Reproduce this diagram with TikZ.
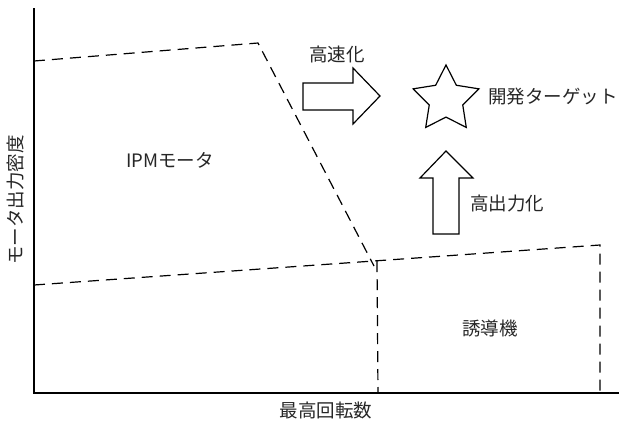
\documentclass[tikz,border=0pt]{standalone}
\usepackage{fontspec}
\setmainfont{Noto Sans CJK JP}
\usetikzlibrary{shapes.geometric}
\begin{document}
\begin{tikzpicture}[x=1pt,y=-1pt,
  axis/.style={line width=1.8pt},
  bound/.style={line width=1.2pt, dash pattern=on 11pt off 7pt},
  lbl/.style={font=\fontsize{18.5}{22}\selectfont, inner sep=0pt, text=black!85},
  fatarrow/.style={draw, line width=1.2pt, fill=white, line join=miter}]
\useasboundingbox (0,0) rectangle (619,424);
% axes
\coordinate (O) at (34,393);
\coordinate (Ytop) at (34,8);
\coordinate (Xend) at (619,393);
\draw[axis] (Ytop) -- (O) -- (Xend);
% IPM motor region
\coordinate (i1) at (34,61);
\coordinate (i2) at (258,43);
\coordinate (i3) at (374,266);
\draw[bound] (i1) -- (i2) -- (i3);
% induction motor region
\coordinate (m1) at (34,285);
\coordinate (m2) at (600,245);
\coordinate (m3) at (600,393);
\coordinate (v1) at (377,261);
\coordinate (v2) at (378,393);
\draw[bound] (m1) -- (m2) -- (m3);
\draw[bound] (v1) -- (v2);
% right fat arrow
\draw[fatarrow] (303,83) -- (353,83) -- (353,68) -- (380,96) -- (353,124) -- (353,110) -- (303,110) -- cycle;
% up fat arrow
\draw[fatarrow] (433,234) -- (433,178) -- (420,178) -- (446,151) -- (473,178) -- (459,178) -- (459,234) -- cycle;
% star
\node[draw, star, star points=5, star point ratio=1.96, minimum size=69pt, inner sep=0pt, line width=1.2pt] (star) at (446,99.5) {};
% labels
\node[lbl] (speed) at (337,54) {高速化};
\node[lbl, anchor=west] (target) at (488,97) {開発ターゲット};
\node[lbl, anchor=west] (power) at (470,203) {高出力化};
\node[lbl] (ipm) at (170,160) {IPMモータ};
\node[lbl] (im) at (490,328) {誘導機};
\node[lbl] (xlab) at (326,410) {最高回転数};
\node[lbl, rotate=90] (ylab) at (16,200) {モータ出力密度};
\end{tikzpicture}
\end{document}
